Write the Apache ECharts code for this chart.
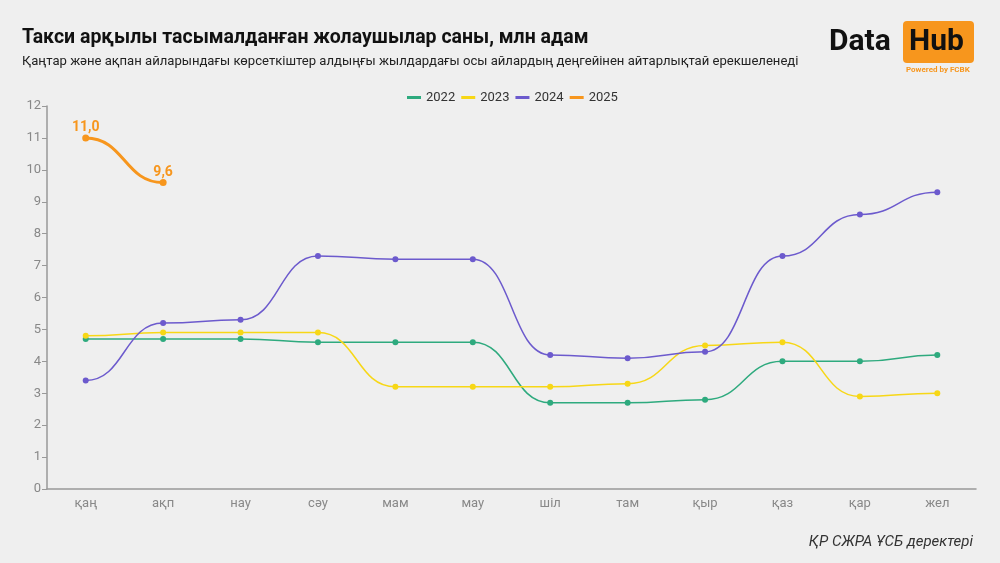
<!DOCTYPE html>
<html><head><meta charset="utf-8">
<script src="https://cdn.jsdelivr.net/npm/echarts@6/dist/echarts.min.js"></script>
<style>html,body{margin:0;padding:0;background:#efefef;}#c{width:1000px;height:563px;}</style>
</head><body><div id="c"></div>
<script>
const categories = ['қаң','ақп','нау','сәу','мам','мау','шіл','там','қыр','қаз','қар','жел'];
const s2022 = [4.7,4.7,4.7,4.6,4.6,4.6,2.7,2.7,2.8,4.0,4.0,4.2];
const s2023 = [4.8,4.9,4.9,4.9,3.2,3.2,3.2,3.3,4.5,4.6,2.9,3.0];
const s2024 = [3.4,5.2,5.3,7.3,7.2,7.2,4.2,4.1,4.3,7.3,8.6,9.3];
const s2025 = [11.0,9.6];
const yTicks = [0,12,1];

const chart = echarts.init(document.getElementById('c'));
function curve(name, data, color, width){
  return {name, type:'custom', z:2, silent:true,
    data: data.map((v,i)=>[i,v]),
    renderItem: function(params, api){
      const i = params.dataIndex;
      if (i === 0) return null;
      const p0 = api.coord([i-1, data[i-1]]);
      const p1 = api.coord([i, api.value(1)]);
      const dx = (p1[0]-p0[0])*0.5;
      return {type:'bezierCurve',
        shape:{x1:p0[0], y1:p0[1], x2:p1[0], y2:p1[1], cpx1:p0[0]+dx, cpy1:p0[1], cpx2:p1[0]-dx, cpy2:p1[1]},
        style:{stroke:color, lineWidth:width, fill:null}};
    }};
}
function dots(name, data, color, size, labels){
  return {name, type:'line', z:3, data, symbol:'circle', symbolSize:size,
    lineStyle:{color, width:0, opacity:0}, itemStyle:{color},
    label: labels ? {show:true, position:'top', color, fontWeight:'bold', fontSize:14, fontFamily:'Roboto', distance:0,
      formatter: p => p.value.toFixed(1).replace('.', ',')} : {show:false}};
}
chart.setOption({
  backgroundColor:'#efefef',
  textStyle:{fontFamily:'Roboto'},
  title:[
    {text:'Такси арқылы тасымалданған жолаушылар саны, млн адам', left:17, top:23,
     textStyle:{fontSize:19.5, fontWeight:'bold', color:'#111', fontFamily:'Roboto'}},
    {text:'Қаңтар және ақпан айларындағы көрсеткіштер алдыңғы жылдардағы осы айлардың деңгейінен айтарлықтай ерекшеленеді', left:17, top:50,
     textStyle:{fontSize:13.1, fontWeight:'normal', color:'#222', fontFamily:'Roboto'}},
    {text:'ҚР СЖРА ҰСБ деректері', right:22, top:530,
     textStyle:{fontSize:15, fontWeight:'normal', fontStyle:'italic', color:'#333', fontFamily:'Roboto'}}
  ],
  graphic:[
    {type:'text', left:829, top:27, style:{text:'Data', font:'bold 30px Roboto', fill:'#111'}},
    {type:'rect', left:903, top:21, shape:{width:71, height:42, r:4}, style:{fill:'#f7961d'}},
    {type:'text', left:909, top:27, style:{text:'Hub', font:'bold 30px Roboto', fill:'#111'}},
    {type:'text', left:906, top:66, style:{text:'Powered by FCBK', font:'bold 8px Roboto', fill:'#f7961d'}}
  ],
  legend:{top:86, left:402, icon:'rect', itemWidth:14, itemHeight:3, itemGap:6,
    textStyle:{fontSize:13, color:'#333'}, data:['2022','2023','2024','2025']},
  grid:{left:47, right:24, top:106, bottom:74},
  xAxis:{type:'category', data:categories, boundaryGap:true,
    axisLine:{lineStyle:{color:'#999', width:1.5}}, axisTick:{alignWithLabel:true, lineStyle:{color:'#999'}},
    axisLabel:{color:'#888', fontSize:13, margin:8}},
  yAxis:{type:'value', min:yTicks[0], max:yTicks[1], interval:yTicks[2],
    axisLine:{show:true, lineStyle:{color:'#999', width:1.5}}, axisTick:{show:true, lineStyle:{color:'#999'}},
    splitLine:{show:false}, axisLabel:{color:'#888', fontSize:13, margin:6}},
  series:[
    dots('2022', s2022, '#2eaa7e', 6, false),
    dots('2023', s2023, '#f7d716', 6, false),
    dots('2024', s2024, '#6c5acd', 6, false),
    dots('2025', s2025, '#f7961d', 7, true),
    curve('2022', s2022, '#2eaa7e', 1.5),
    curve('2023', s2023, '#f7d716', 1.5),
    curve('2024', s2024, '#6c5acd', 1.5),
    curve('2025', s2025, '#f7961d', 3)
  ]
});
</script></body></html>
